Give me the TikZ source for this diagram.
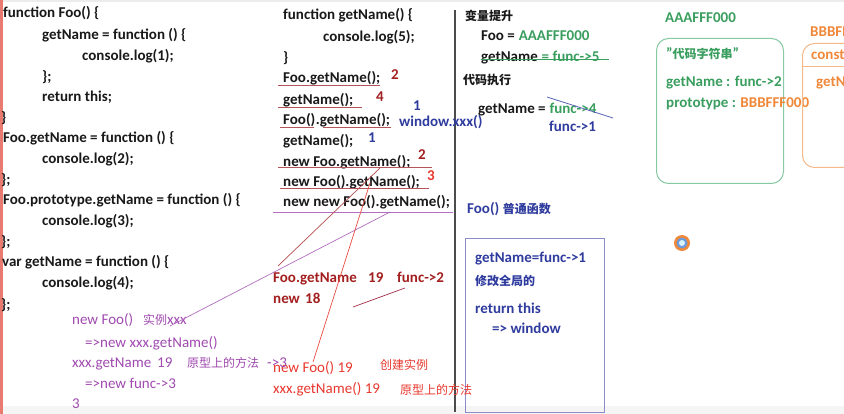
\documentclass[tikz,border=0pt]{standalone}
\usepackage{fontspec}
\setmainfont{Carlito}
\newfontfamily\cjk{Noto Sans CJK SC}
\usetikzlibrary{positioning}

\definecolor{hintgreen}{HTML}{3A9E5F}
\definecolor{boxgreen}{HTML}{86C9A2}
\definecolor{hintorange}{HTML}{F0883A}
\definecolor{boxorange}{HTML}{F5B98A}
\definecolor{hintblue}{HTML}{2F3C9E}
\definecolor{boxblue}{HTML}{8C8CC8}
\definecolor{darkred}{HTML}{A31F1F}
\definecolor{brightred}{HTML}{E8382E}
\definecolor{hintpurple}{HTML}{A04AB0}
\definecolor{lineplum}{HTML}{B5545A}
\definecolor{sidebar}{HTML}{E87A70}

\newcommand{\zh}[1]{{\cjk\fontsize{12}{14}\selectfont #1}}

\begin{document}
\begin{tikzpicture}[x=1pt,y=-1pt,
  txt/.style={inner sep=0pt,anchor=base west,font=\fontsize{15}{18}\selectfont\bfseries},
  code/.style={txt,text=black!90},
  greentxt/.style={txt,text=hintgreen},
  orangetxt/.style={txt,text=hintorange},
  bluetxt/.style={txt,text=hintblue},
  result/.style={txt,text=darkred},
  redtxt/.style={txt,text=brightred,font=\fontsize{15}{18}\selectfont},
  purpletxt/.style={txt,text=hintpurple,font=\fontsize{15}{18}\selectfont},
  objbox/.style={draw,rounded corners=12pt,line width=1pt,anchor=north west,inner sep=0pt},
  uline/.style={lineplum,line width=0.8pt},
  stroke/.style={line width=0.7pt}
]
\clip (0,0) rectangle (844,414);
\fill[white] (0,0) rectangle (844,414);

% frame of the screen
\fill[sidebar] (0,0) rectangle (3,414);
\fill[gray!15] (3,0) rectangle (844,2);
\fill[gray!8] (3,406) rectangle (844,414);
\draw[black!70,line width=1.1pt] (455,10) -- (455,412);

% Left column: source code
\node[code] (c1) at (3,18) {function Foo() \{};
\node[code] (c2) at (42,40) {getName = function () \{};
\node[code] (c3) at (82,61) {console.log(1);};
\node[code] (c4) at (42,82) {\};};
\node[code] (c5) at (42,102) {return this;};
\node[code] (c6) at (1,123) {\}};
\node[code] (c7) at (3,143) {Foo.getName = function () \{};
\node[code] (c8) at (42,164) {console.log(2);};
\node[code] (c9) at (1,185) {\};};
\node[code] (c10) at (3,205) {Foo.prototype.getName = function () \{};
\node[code] (c11) at (42,226) {console.log(3);};
\node[code] (c12) at (1,247) {\};};
\node[code] (c13) at (2,267) {var getName = function () \{};
\node[code] (c14) at (42,288) {console.log(4);};
\node[code] (c15) at (1,309) {\};};

% Middle column: calls
\node[code] (m1) at (283,20) {function getName() \{};
\node[code] (m2) at (323,42) {console.log(5);};
\node[code] (m3) at (283,63) {\}};
\node[code] (m4) at (283,83) {Foo.getName();};
\node[code] (m5) at (283,105) {getName();};
\node[code] (m6) at (283,125) {Foo()};
\node[code,base right=0pt of m6] (m6b) {.getName();};
\node[code] (m7) at (283,146) {getName();};
\node[code] (m8) at (283,167) {new Foo.getName();};
\node[code] (m9) at (283,187) {new Foo().getName();};
\node[code] (m10) at (283,207) {new new Foo().getName();};

% Results
\node[result] (a4) at (391,80) {2};
\node[result] (a5) at (376,102) {4};
\node[bluetxt] (a6) at (413,111) {1};
\node[bluetxt] (a6w) at (399,127) {window.xxx()};
\node[bluetxt] (a7) at (368,143) {1};
\node[result] (a8) at (418,160) {2};
\node[txt,text=brightred] (a9) at (427,181) {3};

% Underlines
\draw[uline] (278,85) -- (380,85);
\draw[uline] (278,107) -- (362,107);
\draw[uline] (280,127) -- (314,127);
\draw[uline] (323,127) -- (391,127);
\draw[uline] (278,167) -- (432,167);
\draw[uline] (280,188) -- (429,188);
\draw[hintpurple!80,line width=0.8pt] (273,212) -- (453,212);

% Hoisting
\node[code] (hoist) at (465,21) {\zh{变量提升}};
\node[code] (hfoo) at (481,41) {Foo =};
\node[greentxt,base right=3.5pt of hfoo] (hfooval) {AAAFFF000};
\node[code] (hget) at (481,62) {getName};
\node[greentxt,base right=3.5pt of hget] (hgetval) {= func->5};
\draw[hintgreen,line width=0.9pt] (hget.base west) ++(0,-3) -- ++(128,0);
\node[code] (run) at (463,85) {\zh{代码执行}};
\node[code] (rget) at (478,114) {getName =};
\node[greentxt,base right=3.5pt of rget] (rgetval) {func->4};
\node[bluetxt] (rgetnew) at (549,132) {func->1};
\coordinate (cutA) at (547,97);
\coordinate (cutB) at (613,118);
\draw[hintblue!80,line width=0.8pt] (cutA) -- (cutB);

% Foo() called as a plain function
\node[bluetxt] (plain) at (467,214) {Foo() \zh{普通函数}};
\node[draw=boxblue,line width=1pt,anchor=north west,inner sep=0pt,
  minimum width=139pt,minimum height=174pt] (fnbox) at (465,238) {};
\node[bluetxt] (b1) at (475,263) {getName=func->1};
\node[bluetxt] (b2) at (475,286) {\zh{修改全局的}};
\node[bluetxt] (b3) at (475,313) {return this};
\node[bluetxt] (b4) at (492,334) {=> window};

% Cursor
\fill[hintorange] (682,243) circle (8);
\fill[cyan!50!blue!60] (682,243) circle (5.5);
\fill[white!85!cyan] (682,243) circle (3);

% Heap: Foo
\node[greentxt] (addrA) at (665,23) {AAAFFF000};
\node[objbox,draw=boxgreen,minimum width=127pt,minimum height=145pt] (objA) at (656,38) {};
\node[greentxt] (g1) at (666,59) {\symbol{34}\zh{代码字符串}\symbol{34}};
\node[greentxt] (g2) at (666,87) {getName : func->2};
\node[greentxt] (g3) at (666,108) {prototype :};
\node[orangetxt,base right=4pt of g3] (g3val) {BBBFFF000};

% Heap: prototype
\node[orangetxt] (addrB) at (810,37) {BBBFFF000};
\node[objbox,draw=boxorange,minimum width=120pt,minimum height=124pt] (objB) at (802,43) {};
\draw[boxorange,line width=1pt] (802,67) -- (922,67);
\node[orangetxt] (o1) at (811,60) {constructor};
\node[orangetxt] (o2) at (816,87) {getName};

% Precedence notes
\node[result] (r1) at (273,283) {Foo.getName};
\node[result] (r1n) at (368,283) {19};
\node[result] (r1f) at (397,283) {func->2};
\node[result] (r2) at (273,304) {new};
\node[result] (r2n) at (305,304) {18};
\node[redtxt] (r3) at (273,372) {new Foo() 19};
\node[redtxt] (r3z) at (380,370) {\zh{创建实例}};
\node[redtxt] (r4) at (273,393) {xxx.getName() 19};
\node[redtxt] (r4z) at (400,394) {\zh{原型上的方法}};

% new new Foo().getName()
\node[purpletxt] (p1) at (72,325) {new Foo()};
\node[purpletxt] (p1z) at (143,325) {\zh{实例}xxx};
\node[purpletxt] (p2) at (85,347) {=>new xxx.getName()};
\node[purpletxt] (p3) at (72,367) {xxx.getName};
\node[purpletxt] (p3n) at (157,367) {19};
\node[purpletxt] (p3z) at (187,367) {\zh{原型上的方法}};
\node[purpletxt] (p3r) at (267,367) {->3};
\node[purpletxt] (p4) at (85,388) {=>new func->3};
\node[purpletxt] (p5) at (72,408) {3};

% Hand strokes
\coordinate (sk1a) at (278,266);
\coordinate (sk1b) at (380,168);
\coordinate (sk2a) at (170,326);
\coordinate (sk2b) at (390,212);
\coordinate (sk3a) at (313,362);
\coordinate (sk3b) at (370,183);
\coordinate (sk4a) at (353,307);
\coordinate (sk4b) at (405,288);
\draw[stroke,darkred!80] (sk1a) -- (sk1b);
\draw[stroke,hintpurple!80] (sk2a) -- (sk2b);
\draw[stroke,brightred!90] (sk3a) -- (sk3b);
\draw[stroke,darkred!70!hintpurple] (sk4a) -- (sk4b);

\end{tikzpicture}
\end{document}
